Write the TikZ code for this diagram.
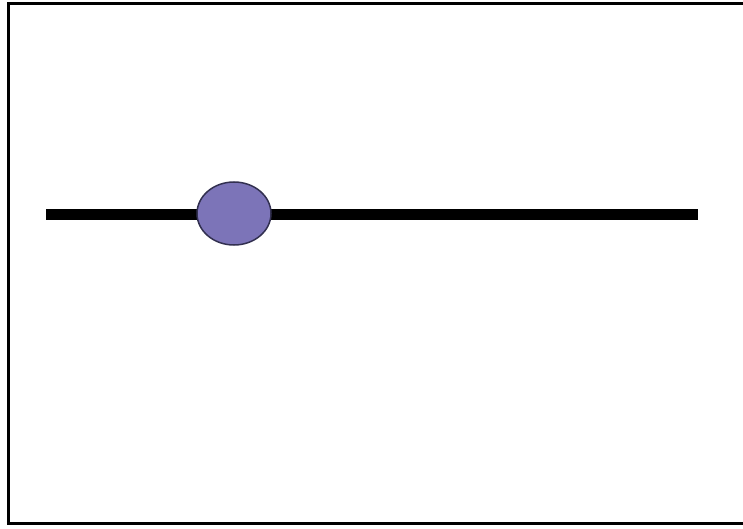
\documentclass[tikz,border=0pt]{standalone}
\usetikzlibrary{shapes.geometric}
\definecolor{ballfill}{RGB}{124,116,184}
\definecolor{balledge}{RGB}{50,48,80}
\tikzset{
  frameline/.style={line width=3pt, black},
  rodline/.style={line width=10pt, black},
  ball/.style={ellipse, draw=balledge, line width=1.5pt, fill=ballfill, minimum width=74pt, minimum height=63pt, inner sep=0pt}
}
\begin{document}
\begin{tikzpicture}[x=1pt,y=-1pt]
\useasboundingbox (0,0) rectangle (743,529);
\coordinate (tl) at (8,4);
\coordinate (tr) at (743,4);
\coordinate (bl) at (8,523.5);
\coordinate (br) at (743,523.5);
\draw[frameline] (tr) -- (tl) -- (bl) -- (br);
\coordinate (rodL) at (46,214.5);
\coordinate (rodR) at (698,214.5);
\draw[rodline] (rodL) -- (rodR);
\node[ball] (bead) at (234,213.5) {};
\end{tikzpicture}
\end{document}
